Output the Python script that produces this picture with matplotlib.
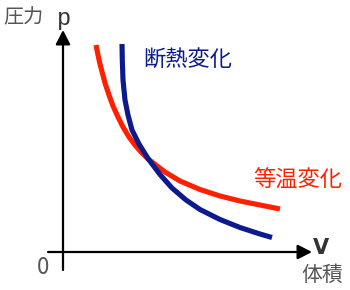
import matplotlib
matplotlib.use('Agg')
import matplotlib.pyplot as plt

plt.rcParams['font.family'] = ['Noto Sans CJK JP', 'DejaVu Sans']

# 等温変化 (isotherm)
iso_v = [33, 35, 37, 42, 46, 50, 55, 60, 66, 72, 78, 85, 102, 117, 137, 157, 177, 197, 217]
iso_p = [207, 197, 188, 169, 157, 146, 135, 125, 115, 107, 100, 93, 80, 71, 62.5, 56, 51, 47, 43]
# 断熱変化 (adiabat)
adi_v = [59, 59.3, 60, 62, 65, 69, 76, 85, 97, 109, 123, 137, 157, 177, 197, 209]
adi_p = [208, 192, 172, 152, 137, 122, 108, 93.5, 77.5, 64, 52, 42.5, 32.5, 24.5, 18, 14.5]

red = '#ff2000'
blue = '#0c1a8e'
gray = '#555555'

fig = plt.figure(figsize=(3.5, 2.9), dpi=100)
ax = fig.add_axes([0, 0, 1, 1])
ax.set_xlim(-63, 287)
ax.set_ylim(-38, 252)
ax.axis('off')

# ejes con flecha
arr = dict(arrowstyle='-|>,head_length=0.43,head_width=0.22', color='black',
           lw=1.6, mutation_scale=20, shrinkA=0, shrinkB=0)
ax.annotate('', xy=(0, 222), xytext=(0, -18), arrowprops=arr)
ax.annotate('', xy=(249, 0), xytext=(-15, 0), arrowprops=arr)

ax.plot(iso_v, iso_p, color=red, lw=3.7, solid_capstyle='butt', solid_joinstyle='round')
ax.plot(adi_v, adi_p, color=blue, lw=3.7, solid_capstyle='butt', solid_joinstyle='round')

ax.text(-60, 234, '圧力', color=gray, fontsize=14.5, ha='left', va='center')
ax.text(1, 234, 'p', color='#333333', fontsize=17, ha='center', va='center',
        family='Liberation Mono')
ax.text(-20, -16, '0', color=gray, fontsize=16, ha='center', va='center')
ax.text(258, 4, 'V', color='#333333', fontsize=15, ha='center', va='center',
        family='DejaVu Sans', fontweight='bold')
ax.text(259, -23, '体積', color=gray, fontsize=15, ha='center', va='center')
ax.text(80, 193, '断熱変化', color=blue, fontsize=16, ha='left', va='center')
ax.text(190, 72, '等温変化', color=red, fontsize=16, ha='left', va='center')

plt.savefig('out.png', dpi=100)
